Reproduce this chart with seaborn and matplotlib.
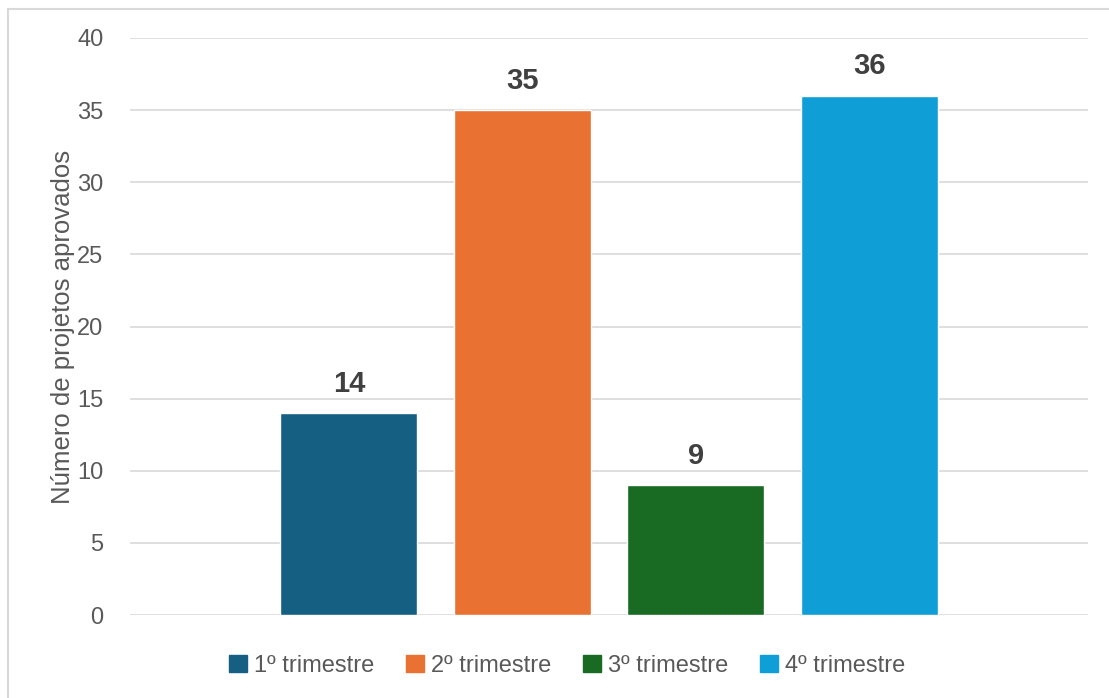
import matplotlib
matplotlib.use("Agg")
import matplotlib.pyplot as plt
import matplotlib.patches as mpatches
import pandas as pd
import seaborn as sns

# Data
categoria = ["Projetos"]
trimestres = ["1º trimestre", "2º trimestre", "3º trimestre", "4º trimestre"]
aprovados = [14, 35, 9, 36]
cores = ["#156082", "#E97132", "#196B24", "#0F9ED5"]

df = pd.DataFrame({"cat": categoria * len(trimestres), "trimestre": trimestres, "valor": aprovados})

sns.set_theme(style="white")
plt.rcParams["font.family"] = ["Liberation Sans", "DejaVu Sans"]

fig = plt.figure(figsize=(11.09, 6.98), dpi=100)
ax = fig.add_axes([130 / 1109, 1 - 615 / 698, (1088 - 130) / 1109, (615 - 38) / 698])

sns.barplot(data=df, x="cat", y="valor", hue="trimestre", hue_order=trimestres,
            palette=cores, width=0.724, gap=0.21, saturation=1, ax=ax, legend=False)

ax.set_xlim(-0.5, 0.5)
ax.set_ylim(0, 40)
ax.set_yticks(range(0, 41, 5))
ax.yaxis.grid(True, color="#D9D9D9", linewidth=1.2)
ax.set_axisbelow(True)
for s in ax.spines.values():
    s.set_visible(False)
ax.set_xticks([])
ax.set_xlabel("")
ax.set_ylabel("Número de projetos aprovados", fontsize=18.5, color="#595959", labelpad=2)
ax.tick_params(axis="y", labelsize=17, colors="#595959", length=0, pad=19)

for c in ax.containers:
    ax.bar_label(c, fontsize=21, fontweight="bold", color="#404040", padding=11)

handles = [mpatches.Patch(color=c, label=t) for c, t in zip(cores, trimestres)]
fig.legend(handles=handles, loc="center", bbox_to_anchor=(567 / 1109, 1 - 666 / 698), ncol=4,
           frameon=False, fontsize=17, labelcolor="#595959", handlelength=0.75, handleheight=0.75,
           handletextpad=0.3, columnspacing=1.35)

# outer frame
fig.patches.append(mpatches.Rectangle((8 / 1109, -0.1), 1.2, 1 - 9 / 698 + 0.1, transform=fig.transFigure,
                                      fill=False, edgecolor="#D9D9D9", linewidth=1.5))

fig.savefig("out.png", dpi=100)
